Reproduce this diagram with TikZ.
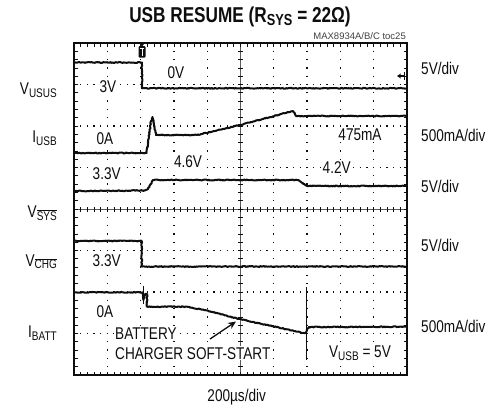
\documentclass[tikz,border=0pt]{standalone}
\usepackage{fontspec}
\setmainfont{Liberation Sans}
\newfontfamily\plainsf{Liberation Sans}
\usetikzlibrary{arrows.meta,decorations.pathmorphing}
\definecolor{ink}{RGB}{14,14,14}
\definecolor{axisgrey}{RGB}{90,90,90}
\newcommand\sbs[1]{\raisebox{-0.3ex}{\fontsize{12.5}{13}\selectfont #1}}
\newcommand\osbs[1]{\raisebox{-0.3ex}{\fontsize{12.5}{13}\selectfont$\overline{\hbox{#1}}$}}
\newcommand\tsbs[1]{\raisebox{-0.3ex}{\fontsize{16}{17}\selectfont\bfseries #1}}
\newcommand\nrw[1]{\scalebox{0.8}[1]{#1}}
\tikzset{
  trace/.style={draw=ink, line width=2pt, line join=round, decorate,
    decoration={random steps, segment length=1.1pt, amplitude=0.45pt}},
  lbl/.style={inner sep=1pt, fill=white, text=ink},
  lefttxt/.style={anchor=east, inner sep=0pt, text=ink},
  righttxt/.style={anchor=west, inner sep=0pt, text=ink},
  vdots/.style={draw=ink, line width=1.3pt, dash pattern=on 1.3pt off 7pt},
  hdots/.style={draw=ink, line width=1.3pt, dash pattern=on 1.3pt off 5.36pt},
  hticks/.style={draw=ink, line width=3.5pt, dash pattern=on 0.7pt off 5.96pt},
  vticks/.style={draw=ink, line width=3.5pt, dash pattern=on 0.7pt off 7.6pt},
  cticksh/.style={draw=ink, line width=5pt, dash pattern=on 0.7pt off 5.96pt},
  cticksv/.style={draw=ink, line width=5pt, dash pattern=on 0.7pt off 7.6pt},
  framebox/.style={line width=2pt, draw=ink},
}
\begin{document}
\begin{tikzpicture}[x=1pt,y=-1pt,font=\fontsize{17}{19}\selectfont]
\useasboundingbox (0,0) rectangle (502,408);
% dotted grid (one dashed path per grid line)
\foreach \i in {1,2,3,4,6,7,8,9}{
  \draw[vdots] ({74+\i*33.3},42.35) -- ({74+\i*33.3},375);
}
\foreach \j in {1,2,3,5,6,7}{
  \draw[hdots] (73.35,{43+\j*41.5}) -- (407,{43+\j*41.5});
}
% centre axes with ticks
\draw[line width=0.7pt, axisgrey] (74,209) -- (407,209);
\draw[line width=0.7pt, axisgrey] (240,43) -- (240,375);
\draw[cticksh] (73.65,209) -- (407,209);
\draw[cticksv] (240,42.65) -- (240,375);
% edge ticks
\draw[hticks] (73.65,44.75) -- (407,44.75);
\draw[hticks] (73.65,373.25) -- (407,373.25);
\draw[vticks] (75.75,42.65) -- (75.75,375);
\draw[vticks] (405.25,42.65) -- (405.25,375);
% frame
\draw[framebox] (74,43) rectangle (407,375);

% in-plot labels
\node[lbl] (l3v) at (108,86.5) {\nrw{3V}};
\node[lbl] (l0v) at (176,73) {\nrw{0V}};
\node[lbl] (l0a) at (105,138.5) {\nrw{0A}};
\node[lbl] (l475) at (360,135) {\nrw{475mA}};
\node[lbl] (l33a) at (106.7,173.5) {\nrw{3.3V}};
\node[lbl] (l46) at (188,161.5) {\nrw{4.6V}};
\node[lbl] (l42) at (336.7,167.5) {\nrw{4.2V}};
\node[lbl] (l33b) at (106.7,261) {\nrw{3.3V}};
\node[lbl] (l0b) at (105,311.7) {\nrw{0A}};
\node[lbl, anchor=west] (lbat) at (114,333.3) {\nrw{BATTERY}};
\node[lbl, anchor=west] (lchg) at (114,353.3) {\nrw{CHARGER SOFT-START}};
\node[lbl] (lvusb) at (360,353.3) {\nrw{V\sbs{USB} = 5V}};

% traces
\pgfmathsetseed{7}
\draw[trace] (74,62.5) -- (142,62.5) -- (142,88.3) -- (406,88.3);
\draw[trace] (74,153) -- (146.5,153) -- (149,135) -- (151,121) -- (152.5,117) -- (154,125) -- (156,135)
  -- (197,135) -- (215,131) -- (240,125) -- (293,111) -- (296,116) -- (406,116);
\draw[trace] (74,191) -- (145,190.5) -- (148,189) -- (153,180) -- (298,180) -- (307,186) -- (406,186);
\draw[trace] (74,241) -- (141.7,241) -- (141.7,266.5) -- (406,266.5);
\draw[trace] (74,292.3) -- (143,292.3) -- (143.5,300) -- (145,294) -- (147,294) -- (147,306.7)
  -- (187,306.7) -- (205,310) -- (236.7,318.3) -- (305,333.3) -- (309,327) -- (406,326.7);
\draw[ink, line width=1.2pt] (143.3,286) -- (143.3,304);
\draw[ink, line width=1.3pt] (306.7,286.7) -- (306.7,360);

% annotation arrow
\coordinate (arrS) at (210,339);
\coordinate (arrE) at (236,321.5);
\draw[ink, line width=1.3pt, -{Stealth[length=8pt,width=7pt]}] (arrS) -- (arrE);

% trigger marker
\fill[ink] (138.5,42) -- (145.5,42) -- (142,46.5) -- cycle;
\fill[ink, rounded corners=1pt] (138.5,46) rectangle (145.5,57.5);
\draw[white, line width=1pt] (139.8,48) -- (144.2,48);
\draw[white, line width=1pt] (142,48) -- (142,55.5);
% level marker
\coordinate (lvS) at (405,76);
\coordinate (lvE) at (397,76);
\draw[ink, line width=1.1pt, -{Stealth[length=4pt,width=5pt]}] (lvS) -- (lvE);
\draw[ink, line width=1.1pt] (404.5,72) -- (404.5,80);

% left labels
\node[lefttxt] (vusus) at (57,90) {\nrw{V\sbs{USUS}}};
\node[lefttxt] (iusb) at (57,138.3) {\nrw{I\sbs{USB}}};
\node[lefttxt] (vsys) at (57,213.3) {\nrw{V\osbs{SYS}}};
\node[lefttxt] (vchg) at (57,261.7) {\nrw{V\osbs{CHG}}};
\node[lefttxt] (ibatt) at (57,333.3) {\nrw{I\sbs{BATT}}};
% right labels
\node[righttxt] (r1) at (421,68.3) {\nrw{5V/div}};
\node[righttxt] (r2) at (421,135) {\nrw{500mA/div}};
\node[righttxt] (r3) at (421,186.7) {\nrw{5V/div}};
\node[righttxt] (r4) at (421,245) {\nrw{5V/div}};
\node[righttxt] (r5) at (421,326.7) {\nrw{500mA/div}};
% title and captions
\node[text=ink] (title) at (240,17) {\nrw{\fontsize{21.5}{24}\selectfont\bfseries USB RESUME (R\tsbs{SYS} = 22Ω)}};
\node[anchor=east, inner sep=0pt, font=\plainsf\fontsize{9.5}{10}\selectfont, text=black!75] (toc) at (406,36.5) {MAX8934A/B/C toc25};
\node[text=ink] (tdiv) at (236.7,396.7) {\nrw{200µs/div}};
\end{tikzpicture}
\end{document}
